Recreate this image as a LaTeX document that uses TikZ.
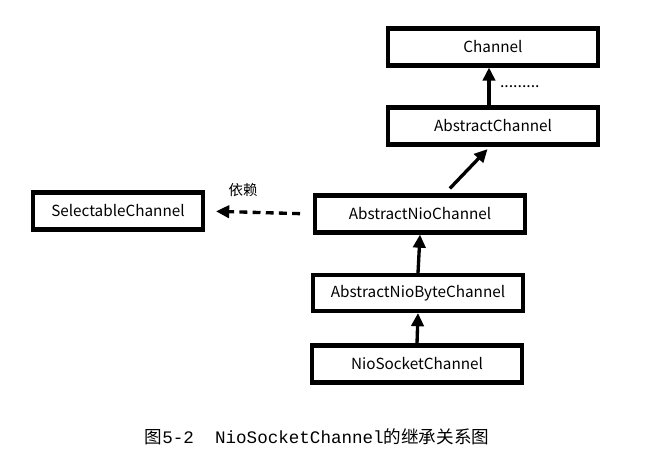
\documentclass[tikz,border=0pt]{standalone}
\usepackage{fontspec}
\usepackage{tikz}
\usetikzlibrary{arrows.meta,positioning,calc}
\newfontfamily\cjk{Noto Sans CJK SC}
\newfontfamily\capmono{Liberation Mono}

\begin{document}
\begin{tikzpicture}[
		x=0.02cm, y=-0.02cm,
		>={Triangle[length=7.5pt,width=7pt]},
		cls/.style={draw, line width=2.3pt, minimum width=4.2cm, minimum height=0.74cm, inner sep=0pt, font=\cjk\fontsize{8.7pt}{10pt}\selectfont},
		inherit/.style={->, line width=1.9pt},
		depend/.style={->, line width=1.9pt, dash pattern=on 4.5pt off 3pt}
		]
		
		% --------------------------------------------------
		% Canvas
		% --------------------------------------------------
		\useasboundingbox (0,0) rectangle (668,464);
		
		% --------------------------------------------------
		% Classes
		% --------------------------------------------------
		\node[cls] (chan) at (493,47) {Channel};
		\node[cls] (absch) at (493,126) {AbstractChannel};
		\node[cls] (anio) at (420,214) {AbstractNioChannel};
		\node[cls, minimum width=3.4cm] (sel) at (118,211) {SelectableChannel};
		\node[cls, minimum height=0.72cm] (anbyte) at (418,293) {AbstractNioByteChannel};
		\node[cls] (nsock) at (417,364) {NioSocketChannel};
		
		% --------------------------------------------------
		% Inheritance
		% --------------------------------------------------
		\draw[inherit] ($(absch.north)+(-4,0)$) -- ($(chan.south)+(-4,0)$)
		node[midway, right=2pt, font=\cjk\fontsize{9pt}{10pt}\selectfont] (more) {.........};
		\draw[inherit, shorten <=4pt, shorten >=2pt] ($(anio.north)+(25,0)$) -- ($(absch.south)+(-3,0)$);
		\draw[inherit] (anbyte.north) -- (anio.south);
		\draw[inherit] (nsock.north) -- (anbyte.south);
		
		% --------------------------------------------------
		% Dependency
		% --------------------------------------------------
		\draw[depend, shorten <=0.26cm, shorten >=0.22cm] (anio.west) -- (sel.east);
		\node[font=\cjk\fontsize{8.2pt}{10pt}\selectfont] (dep) at (243,190) {依赖};
		
		% --------------------------------------------------
		% Caption
		% --------------------------------------------------
		\node[font=\cjk\fontsize{10pt}{12pt}\selectfont] (cap) at (317,437)
		{图{\capmono 5-2\ \ NioSocketChannel}的继承关系图};
		
	\end{tikzpicture}
\end{document}
